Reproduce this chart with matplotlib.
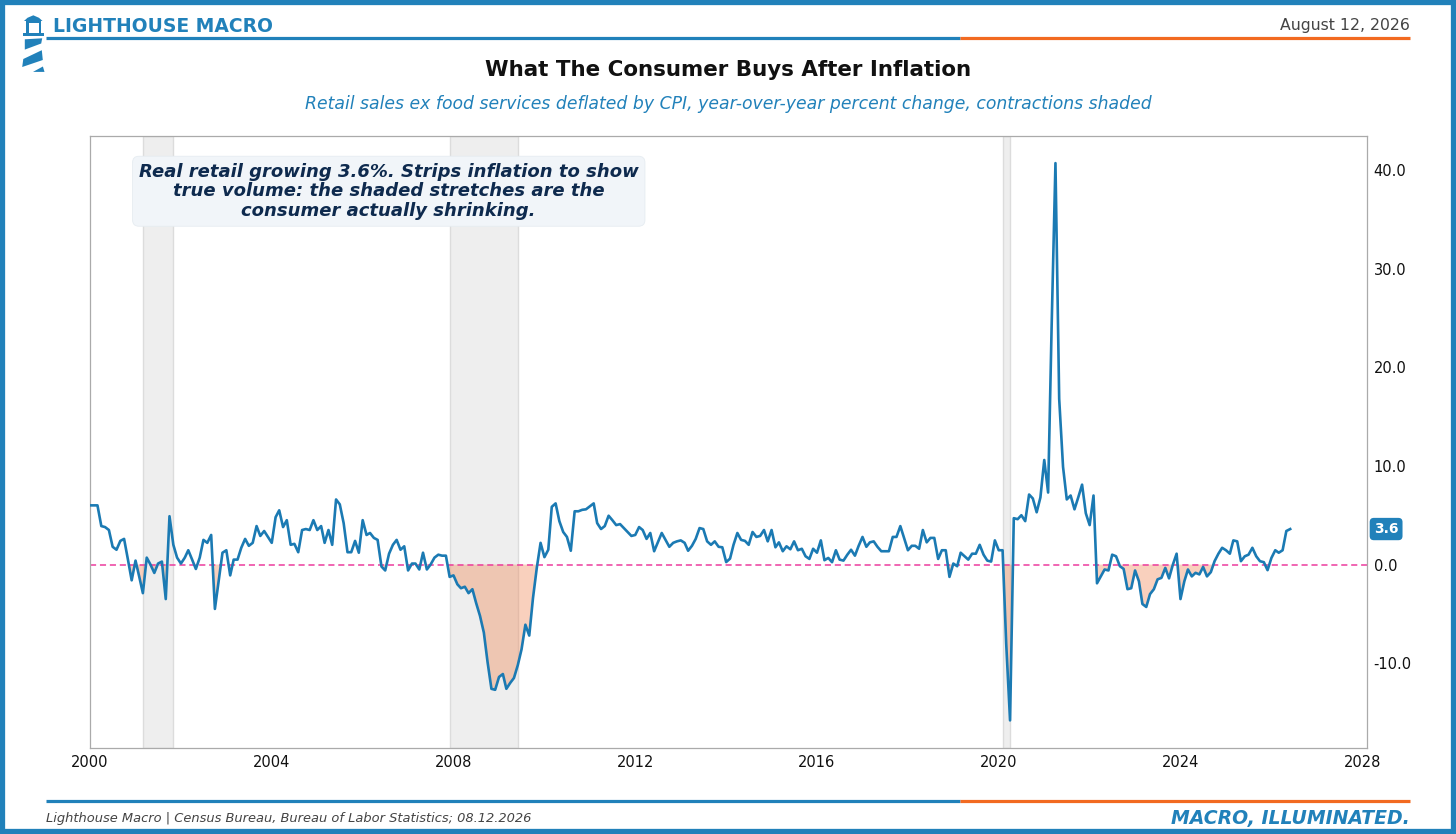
import matplotlib
matplotlib.use("Agg")
import matplotlib.pyplot as plt
import matplotlib.transforms as mtransforms
from matplotlib.patches import Rectangle, Polygon
from matplotlib.lines import Line2D
from matplotlib.ticker import FormatStrFormatter
import matplotlib.dates as mdates
import numpy as np
import pandas as pd

# ---------------- data ----------------
start_month = "2000-01-01"
real_retail_yoy = [
    # 2000
    6.0, 6.0, 6.0, 3.9, 3.8, 3.5, 1.8, 1.5, 2.4, 2.6, 0.5, -1.6,
    # 2001
    0.4, -1.3, -2.9, 0.7, 0.0, -0.85, 0.1, 0.3, -3.5, 4.9, 2.0, 0.7,
    # 2002
    0.1, 0.7, 1.45, 0.5, -0.45, 0.7, 2.5, 2.2, 3.0, -4.5, -1.6, 1.2,
    # 2003
    1.45, -1.1, 0.5, 0.5, 1.7, 2.6, 1.9, 2.2, 3.9, 2.9, 3.4, 2.8,
    # 2004
    2.2, 4.8, 5.5, 3.8, 4.5, 2.0, 2.1, 1.25, 3.5, 3.6, 3.5, 4.5,
    # 2005
    3.5, 3.9, 2.2, 3.5, 2.0, 6.6, 6.1, 4.2, 1.25, 1.25, 2.4, 1.2,
    # 2006
    4.5, 3.0, 3.2, 2.7, 2.5, -0.2, -0.6, 1.1, 2.0, 2.5, 1.5, 1.85,
    # 2007
    -0.6, 0.1, 0.1, -0.5, 1.2, -0.5, 0.0, 0.7, 1.0, 0.9, 0.9, -1.25,
    # 2008
    -1.1, -2.0, -2.4, -2.25, -2.9, -2.5, -3.9, -5.2, -6.9, -9.9, -12.6, -12.7,
    # 2009
    -11.4, -11.1, -12.6, -12.0, -11.5, -10.2, -8.6, -6.1, -7.2, -3.4, -0.3, 2.2,
    # 2010
    0.75, 1.5, 5.85, 6.2, 4.4, 3.3, 2.8, 1.4, 5.4, 5.4, 5.55, 5.6,
    # 2011
    5.9, 6.2, 4.2, 3.6, 3.9, 4.95, 4.5, 4.0, 4.1, 3.7, 3.3, 2.9,
    # 2012
    3.0, 3.8, 3.5, 2.6, 3.2, 1.35, 2.25, 3.2, 2.5, 1.8, 2.2, 2.35,
    # 2013
    2.45, 2.2, 1.4, 1.9, 2.6, 3.7, 3.6, 2.35, 2.0, 2.35, 1.8, 1.75,
    # 2014
    0.25, 0.6, 2.0, 3.2, 2.5, 2.4, 2.0, 3.3, 2.8, 2.9, 3.5, 2.35,
    # 2015
    3.5, 1.75, 2.25, 1.35, 1.85, 1.55, 2.35, 1.45, 1.6, 0.84, 0.57, 1.6,
    # 2016
    1.2, 2.45, 0.44, 0.67, 0.24, 1.45, 0.5, 0.4, 1.0, 1.5, 0.9, 1.9,
    # 2017
    2.8, 1.8, 2.25, 2.35, 1.8, 1.35, 1.35, 1.35, 2.8, 2.8, 3.9, 2.7,
    # 2018
    1.45, 1.9, 1.9, 1.6, 3.5, 2.25, 2.7, 2.7, 0.57, 1.45, 1.45, -1.25,
    # 2019
    0.1, -0.17, 1.2, 0.84, 0.5, 1.1, 1.1, 2.0, 1.0, 0.4, 0.3, 2.45,
    # 2020
    1.45, 1.45, -8.0, -15.8, 4.7, 4.6, 5.0, 4.4, 7.1, 6.7, 5.3, 6.8,
    # 2021
    10.6, 7.3, 24.0, 40.7, 16.8, 9.9, 6.6, 7.0, 5.6, 6.8, 8.1, 5.2,
    # 2022
    4.0, 7.0, -1.9, -1.2, -0.5, -0.6, 1.0, 0.84, -0.17, -0.44, -2.5, -2.4,
    # 2023
    -0.6, -1.7, -4.0, -4.3, -3.0, -2.5, -1.5, -1.35, -0.34, -1.4, 0.0, 1.1,
    # 2024
    -3.5, -1.7, -0.5, -1.2, -0.84, -1.0, -0.24, -1.2, -0.77, 0.34, 1.1, 1.7,
    # 2025
    1.45, 1.1, 2.45, 2.35, 0.34, 0.84, 1.0, 1.7, 0.84, 0.34, 0.24, -0.57,
    # 2026
    0.67, 1.45, 1.2, 1.45, 3.4, 3.6,
]
recessions = [("2001-03-01", "2001-11-01"),
              ("2007-12-01", "2009-06-01"),
              ("2020-02-01", "2020-04-01")]
y_ticks = [-10, 0, 10, 20, 30, 40]
x_tick_years = list(range(2000, 2029, 4))
latest_label = "3.6"

title = "What The Consumer Buys After Inflation"
subtitle = ("Retail sales ex food services deflated by CPI, year-over-year percent change, "
            "contractions shaded")
note = ("Real retail growing 3.6%. Strips inflation to show\n"
        "true volume: the shaded stretches are the\n"
        "consumer actually shrinking.")
brand = "LIGHTHOUSE MACRO"
date_text = "August 12, 2026"
source_text = "Lighthouse Macro | Census Bureau, Bureau of Labor Statistics; 08.12.2026"
tagline = "MACRO, ILLUMINATED."

# ---------------- styling ----------------
BLUE = "#2181BA"
LINE = "#1B7AB3"
ORANGE = "#F26A21"
PINK = "#EC3C9E"
FILL = "#F08A5A"

W, H = 1456, 834
fig = plt.figure(figsize=(W / 100, H / 100), dpi=100)
fig.patch.set_facecolor("white")


def fx(x):
    return x / W


def fy(y):
    return 1 - y / H


# outer frame
fig.patches.append(Rectangle((0, 0), 1, 1, transform=fig.transFigure, fill=False,
                             edgecolor=BLUE, lw=7.4, zorder=10))

# lighthouse logo (pixel coords)
logo_parts = [
    [(24.0, 21.0), (27.5, 17.8), (33.3, 15.3), (39.0, 17.8), (42.5, 21.0)],
    [(25.8, 20.5), (41.2, 20.5), (41.2, 22.6), (25.8, 22.6)],
    [(26.3, 22), (28.9, 22), (28.9, 33), (26.3, 33)],
    [(38.6, 22), (41.2, 22), (41.2, 33), (38.6, 33)],
    [(23.3, 32.6), (43.7, 32.6), (43.7, 36.2), (23.3, 36.2)],
    [(24.8, 39.3), (42.2, 38.3), (41.2, 43.5), (24.8, 49.6)],
    [(23.3, 59.0), (41.8, 50.2), (42.8, 60.0), (22.2, 67.0)],
    [(33.0, 71.9), (42.9, 66.5), (44.5, 71.9)],
]
for pts in logo_parts:
    fig.patches.append(Polygon([(fx(a), fy(b)) for a, b in pts], closed=True,
                               transform=fig.transFigure, facecolor=BLUE,
                               edgecolor="none"))

fig.text(fx(53), fy(27), brand, fontsize=13.5, fontweight="bold", color=BLUE,
         ha="left", va="center")
fig.text(fx(1410), fy(25.5), date_text, fontsize=11.3, color="#444444",
         ha="right", va="center")
for yy in (38, 800.5):
    fig.add_artist(Line2D([fx(46), fx(960)], [fy(yy), fy(yy)], color=BLUE, lw=2.3,
                          transform=fig.transFigure, solid_capstyle="butt"))
    fig.add_artist(Line2D([fx(960), fx(1410)], [fy(yy), fy(yy)], color=ORANGE, lw=2.3,
                          transform=fig.transFigure, solid_capstyle="butt"))

fig.text(0.5, fy(70), title, fontsize=15.4, fontweight="bold", color="#111111",
         ha="center", va="center")
fig.text(0.5, fy(104), subtitle, fontsize=12.4, style="italic", color=BLUE,
         ha="center", va="center")

fig.text(fx(46), fy(818.5), source_text, fontsize=9.4, style="italic", color="#444444",
         ha="left", va="center")
fig.text(fx(1410), fy(818.5), tagline, fontsize=13.6, fontweight="bold", style="italic",
         color=BLUE, ha="right", va="center")

# ---------------- axes ----------------
ax = fig.add_axes([fx(90), fy(748), fx(1366.7) - fx(90), (748 - 135.5) / H])
dates = pd.date_range(start_month, periods=len(real_retail_yoy), freq="MS")
vals = np.array(real_retail_yoy)

for a, b in recessions:
    ax.axvspan(pd.Timestamp(a), pd.Timestamp(b), facecolor="#EEEEEE",
               edgecolor="#DCDCDC", lw=1.0, zorder=0)

ax.fill_between(dates, vals, 0, where=vals < 0, interpolate=True, color=FILL,
                alpha=0.4, lw=0, zorder=1)
ax.axhline(0, color=PINK, ls=(0, (4, 2.5)), lw=1.1, zorder=2)
ax.plot(dates, vals, color=LINE, lw=1.9, zorder=3)

ax.set_xlim(pd.Timestamp("2000-01-01"), pd.Timestamp("2028-02-06"))
ax.set_ylim(-18.6, 43.5)
ax.yaxis.tick_right()
ax.set_yticks(y_ticks)
ax.yaxis.set_major_formatter(FormatStrFormatter("%.1f"))
ax.set_xticks([pd.Timestamp(f"{y}-01-01") for y in x_tick_years])
ax.xaxis.set_major_formatter(mdates.DateFormatter("%Y"))
ax.tick_params(axis="both", length=0, labelsize=10.5, colors="#111111")
ax.tick_params(axis="y", pad=5)
ax.tick_params(axis="x", pad=5)
for s in ax.spines.values():
    s.set_color("#AAAAAA")
    s.set_linewidth(0.9)

ax.text(0.234, 0.909, note, transform=ax.transAxes, ha="center", va="center",
        fontsize=13, fontweight="bold", style="italic", color="#0E2A4E",
        linespacing=1.12, zorder=5,
        bbox=dict(boxstyle="round,pad=0.35", facecolor="#F1F5F9",
                  edgecolor="#E6ECF1", lw=0.6))

trans = mtransforms.blended_transform_factory(ax.transAxes, ax.transData)
ax.text(1.0152, vals[-1], latest_label, transform=trans, ha="center", va="center",
        fontsize=10, fontweight="bold", color="white", clip_on=False, zorder=6,
        bbox=dict(boxstyle="round,pad=0.3", facecolor=BLUE, edgecolor="none"))

fig.savefig("out.png", dpi=100, facecolor="white")
